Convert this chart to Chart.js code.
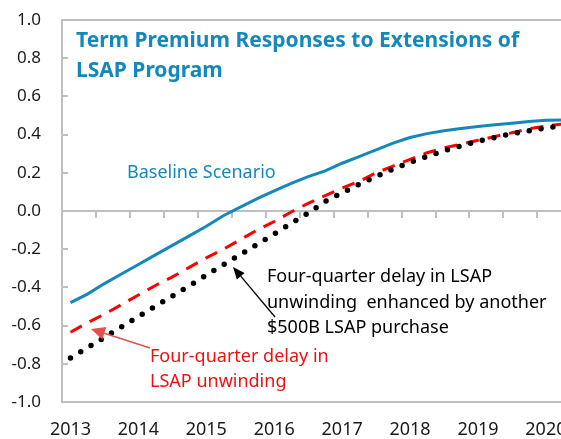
<!DOCTYPE html>
<html>
<head>
<meta charset="utf-8">
<script src="https://cdn.jsdelivr.net/npm/chart.js@4.4.1/dist/chart.umd.min.js"></script>
<style>
  html, body { margin: 0; padding: 0; background: #ffffff; overflow: hidden; width: 561px; height: 439px; }
  #wrap { width: 580px; height: 439px; }
  canvas { display: block; }
</style>
</head>
<body>
<div id="wrap"><canvas id="chart" width="580" height="439"></canvas></div>
<script>
// Quarterly horizon, 2013Q1 .. 2020Q2
const quarters = [
  '2013Q1','2013Q2','2013Q3','2013Q4',
  '2014Q1','2014Q2','2014Q3','2014Q4',
  '2015Q1','2015Q2','2015Q3','2015Q4',
  '2016Q1','2016Q2','2016Q3','2016Q4',
  '2017Q1','2017Q2','2017Q3','2017Q4',
  '2018Q1','2018Q2','2018Q3','2018Q4',
  '2019Q1','2019Q2','2019Q3','2019Q4',
  '2020Q1','2020Q2'
];
const yearLabels = ['2013','2014','2015','2016','2017','2018','2019','2020'];
const yTickValues = [-1.0,-0.8,-0.6,-0.4,-0.2,0.0,0.2,0.4,0.6,0.8,1.0];

// Term premium responses (percentage points)
const baselineScenario = [
  -0.48,-0.435,-0.38,-0.33,
  -0.28,-0.23,-0.18,-0.13,
  -0.08,-0.025,0.02,0.065,
  0.105,0.145,0.18,0.21,
  0.25,0.285,0.32,0.355,
  0.385,0.405,0.42,0.432,
  0.443,0.452,0.46,0.468,
  0.475,0.477
];
const delayUnwinding = [
  -0.635,-0.585,-0.54,-0.49,
  -0.44,-0.39,-0.345,-0.295,
  -0.245,-0.2,-0.15,-0.1,
  -0.055,-0.005,0.04,0.08,
  0.12,0.155,0.2,0.235,
  0.27,0.305,0.33,0.35,
  0.37,0.39,0.41,0.43,
  0.445,0.455
];
const delayPlusPurchase = [
  -0.77,-0.716,-0.662,-0.607,
  -0.553,-0.499,-0.445,-0.391,
  -0.336,-0.282,-0.228,-0.174,
  -0.12,-0.065,-0.011,0.05,
  0.095,0.14,0.18,0.22,
  0.255,0.285,0.315,0.34,
  0.365,0.385,0.405,0.42,
  0.435,0.448
];

const FONT = '"Noto Sans", "Open Sans", sans-serif';
const TEAL = '#1488bb';
const AXIS_GRAY = '#bfbfbf';

// Frame, zero axis and tick marks
const axisFrame = {
  id: 'axisFrame',
  beforeDatasetsDraw(chart) {
    const { ctx, chartArea: a, scales: { x, y } } = chart;
    ctx.save();
    ctx.strokeStyle = AXIS_GRAY;
    ctx.lineWidth = 2;
    ctx.beginPath();
    ctx.moveTo(a.right, a.top); ctx.lineTo(a.left, a.top);
    ctx.lineTo(a.left, a.bottom); ctx.lineTo(a.right, a.bottom);
    ctx.stroke();
    // y ticks pointing inward
    ctx.beginPath();
    yTickValues.forEach(v => {
      const py = Math.round(y.getPixelForValue(v));
      ctx.moveTo(a.left, py); ctx.lineTo(a.left + 6, py);
    });
    ctx.stroke();
    // horizontal axis at zero with tick marks every half year
    const y0 = Math.round(y.getPixelForValue(0));
    ctx.beginPath();
    ctx.moveTo(a.left, y0); ctx.lineTo(a.right, y0);
    for (let i = 2; i < quarters.length; i += 2) {
      const px = Math.round((x.getPixelForValue(i - 1) + x.getPixelForValue(i)) / 2);
      ctx.moveTo(px, y0); ctx.lineTo(px, y0 + 7);
    }
    ctx.stroke();
    ctx.restore();
  }
};

function arrow(ctx, x1, y1, x2, y2, color, width, headLen, headHalf) {
  const ang = Math.atan2(y2 - y1, x2 - x1);
  const bx = x2 - headLen * Math.cos(ang), by = y2 - headLen * Math.sin(ang);
  ctx.strokeStyle = color; ctx.fillStyle = color; ctx.lineWidth = width;
  ctx.beginPath(); ctx.moveTo(x1, y1); ctx.lineTo(bx, by); ctx.stroke();
  ctx.beginPath();
  ctx.moveTo(x2, y2);
  ctx.lineTo(bx + headHalf * Math.sin(ang), by - headHalf * Math.cos(ang));
  ctx.lineTo(bx - headHalf * Math.sin(ang), by + headHalf * Math.cos(ang));
  ctx.closePath(); ctx.fill();
}

// Title and series annotations
const annotations = {
  id: 'annotations',
  afterDatasetsDraw(chart) {
    const { ctx } = chart;
    ctx.save();
    ctx.textAlign = 'left';
    ctx.textBaseline = 'alphabetic';

    ctx.fillStyle = TEAL;
    ctx.font = 'bold 21px ' + FONT;
    ctx.fillText('Term Premium Responses to Extensions of', 76, 47);
    ctx.fillText('LSAP Program', 76, 77);

    ctx.font = '18px ' + FONT;
    ctx.fillStyle = TEAL;
    ctx.fillText('Baseline Scenario', 127, 178);

    ctx.fillStyle = '#000000';
    ctx.fillText('Four-quarter delay in LSAP', 267, 282);
    ctx.fillText('unwinding  enhanced by another', 267, 308);
    ctx.fillText('$500B LSAP purchase', 267, 333);

    ctx.fillStyle = '#ee1111';
    ctx.fillText('Four-quarter delay in', 150, 362);
    ctx.fillText('LSAP unwinding', 150, 387);

    arrow(ctx, 275, 317, 233, 267, '#000000', 1.3, 12, 5);
    arrow(ctx, 150, 348, 91, 329, '#e05050', 1.5, 14, 6.5);
    ctx.restore();
  }
};

new Chart(document.getElementById('chart'), {
  type: 'line',
  data: {
    labels: quarters,
    datasets: [
      {
        label: 'Four-quarter delay in LSAP unwinding enhanced by another $500B LSAP purchase',
        data: delayPlusPurchase,
        borderColor: '#000000',
        borderWidth: 5.5,
        borderDash: [0, 12],
        borderCapStyle: 'round',
        pointRadius: 0,
        tension: 0,
        order: 1
      },
      {
        label: 'Four-quarter delay in LSAP unwinding',
        data: delayUnwinding,
        borderColor: '#ff0000',
        borderWidth: 3,
        borderDash: [13, 9],
        pointRadius: 0,
        tension: 0,
        order: 2
      },
      {
        label: 'Baseline Scenario',
        data: baselineScenario,
        borderColor: TEAL,
        borderWidth: 3,
        pointRadius: 0,
        tension: 0,
        order: 3
      }
    ]
  },
  options: {
    responsive: false,
    animation: false,
    devicePixelRatio: 1,
    layout: { padding: { top: 20, right: 8, left: 0, bottom: 0 } },
    plugins: { legend: { display: false }, tooltip: { enabled: false }, title: { display: false } },
    scales: {
      x: {
        type: 'category',
        offset: true,
        grid: { display: false, drawTicks: false },
        border: { display: false },
        ticks: {
          autoSkip: false,
          maxRotation: 0,
          padding: 17,
          color: '#1a1a1a',
          font: { family: FONT, size: 18 },
          callback: (v, i) => (i % 4 === 0 ? yearLabels[i / 4] : '')
        },
        afterFit(s) { s.height = 37; }
      },
      y: {
        min: -1,
        max: 1,
        grid: { display: false, drawTicks: true, tickLength: 21 },
        border: { display: false },
        ticks: {
          stepSize: 0.2,
          padding: 0,
          color: '#1a1a1a',
          font: { family: FONT, size: 17 },
          callback: v => (Math.abs(v) < 1e-9 ? '0.0' : v.toFixed(1))
        },
        afterFit(s) { s.width = 62; }
      }
    }
  },
  plugins: [axisFrame, annotations]
});
</script>
</body>
</html>
